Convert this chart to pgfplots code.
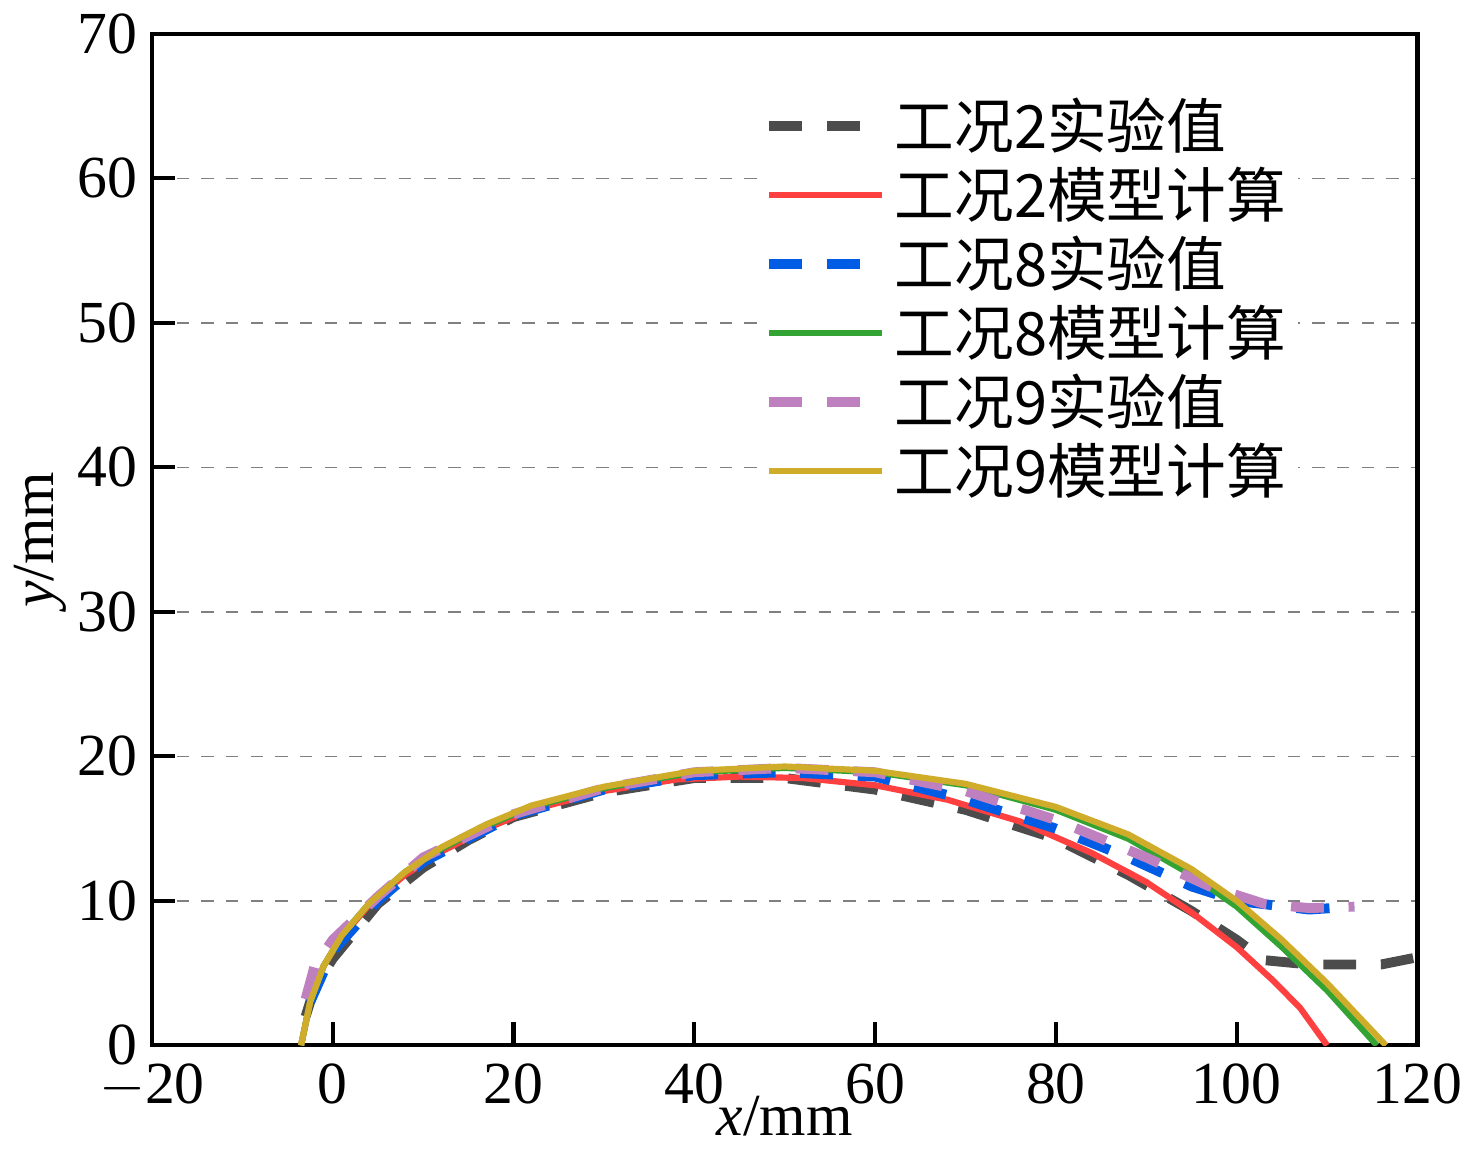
\documentclass[border=0pt]{standalone}
\usepackage{pgfplots}
\pgfplotsset{compat=1.18}
\usepackage{fontspec}
\setmainfont{Liberation Serif}
\newfontfamily\cjk{Noto Sans CJK SC}
\begin{document}
\begin{tikzpicture}
\begin{axis}[
  scale only axis, width=10.81cm, height=8.64cm,
  xmin=-20, xmax=120, ymin=0, ymax=70,
  xtick={-20,0,...,120}, ytick={0,10,...,70},
  xticklabels={$-$20,0,20,40,60,80,100,120},
  tick pos=left, tick align=inside, major tick length=0.2cm,
  axis line style={line width=1pt}, every tick/.style={black, line width=1pt},
  ymajorgrids, grid style={gray, dashed, thin},
  font=\fontsize{14.5}{17}\selectfont,
  /pgf/number format/assume math mode=true,
  xticklabel style={yshift=-1pt},
  xlabel={\textit{x}/mm}, ylabel={\textit{y}/mm},
  xlabel style={yshift=10pt}, ylabel style={yshift=-4pt},
  legend style={at={(0.48,0.95)}, anchor=north west, draw=none, fill=white, font=\cjk\fontsize{14.5}{17}\selectfont, row sep=-1pt, inner sep=1pt},
  legend cell align=left,
  legend image post style={xscale=1.6},
  every axis plot/.append style={line width=1.5pt},
]
\addplot[color=black!70, dash pattern=on 8pt off 6pt, line width=2.4pt] coordinates {(-3,2)(-2,4)(0,6)(5,9.8)(10,12.3)(15,14.2)(20,15.8)(30,17.5)(40,18.5)(50,18.5)(60,17.7)(70,16.3)(80,14.3)(88,11.8)(95,9.3)(100,7.3)(103,5.9)(108,5.6)(116,5.6)(120,6.1)};
\addlegendentry{工况2实验值}
\addplot[color=red!75!white, solid] coordinates {(-3.5,0)(-2.5,3)(-1,5.5)(1,7.5)(4,9.7)(8,11.8)(12,13.4)(17,15)(22,16.3)(30,17.6)(38,18.4)(45,18.6)(52,18.5)(60,18)(68,17)(76,15.5)(84,13.3)(90,11.3)(95,9.2)(100,6.8)(104,4.5)(107,2.6)(110,0)};
\addlegendentry{工况2模型计算}
\addplot[color=blue!60!cyan!90!black, dash pattern=on 8pt off 6pt, line width=2.4pt] coordinates {(-2.5,3)(0,6.5)(5,10)(10,12.7)(20,15.9)(30,17.7)(40,18.7)(50,18.9)(60,18.6)(70,17)(80,15)(88,13)(95,11)(100,10)(104,9.7)(108,9.4)(113,9.6)};
\addlegendentry{工况8实验值}
\addplot[color=green!55!black!80!white, solid] coordinates {(-3.5,0)(-2.5,3)(-1,5.5)(1,7.6)(4,9.8)(8,12)(12,13.6)(17,15.2)(22,16.5)(30,17.8)(40,18.9)(50,19.2)(60,18.9)(70,18)(80,16.3)(88,14.3)(95,11.8)(100,9.6)(105,6.8)(110,3.8)(115.5,0)};
\addlegendentry{工况8模型计算}
\addplot[color=violet!50!white, dash pattern=on 8pt off 6pt, line width=2.4pt] coordinates {(-3,3.2)(-2,5.5)(0,7.3)(5,10.3)(10,13)(20,16)(30,17.8)(40,18.9)(50,19.2)(60,18.9)(70,17.6)(80,15.6)(90,13)(97,11)(103,9.8)(108,9.5)(113,9.6)};
\addlegendentry{工况9实验值}
\addplot[color=yellow!60!orange!80!black, solid] coordinates {(-3.5,0)(-2.5,3)(-1,5.5)(1,7.6)(4,9.8)(8,12)(12,13.7)(17,15.3)(22,16.6)(30,17.9)(40,19)(50,19.3)(60,19)(70,18.1)(80,16.5)(88,14.6)(95,12.2)(100,10)(105,7.3)(110,4.3)(116.5,0)};
\addlegendentry{工况9模型计算}
\end{axis}
\end{tikzpicture}
\end{document}
